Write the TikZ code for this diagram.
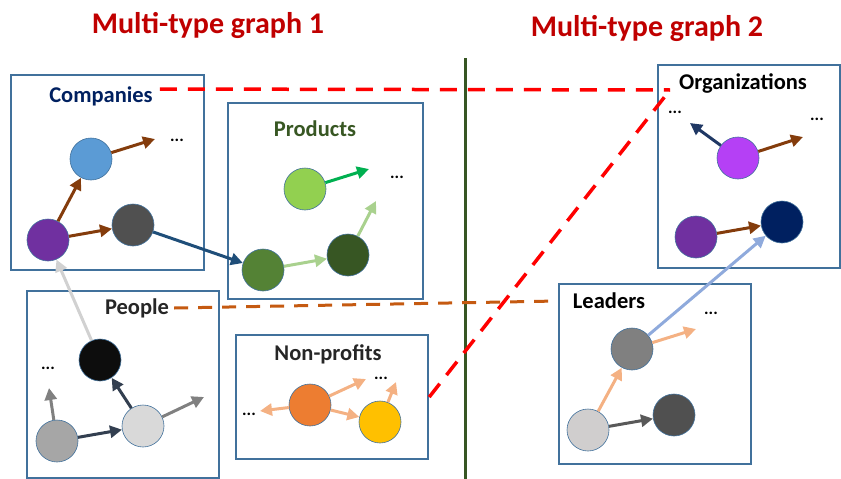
\documentclass[tikz,border=0pt]{standalone}
\usepackage{fontspec}
\setmainfont{Carlito}
\usetikzlibrary{arrows.meta}

\definecolor{boxblue}{HTML}{41719C}
\definecolor{titlered}{HTML}{C00000}
\definecolor{splitgreen}{HTML}{375623}
\definecolor{brownarr}{HTML}{843C0C}
\definecolor{compnavy}{HTML}{002060}
\definecolor{prodlabel}{HTML}{385723}
\definecolor{softorange}{HTML}{F4B183}
\definecolor{dashorange}{HTML}{C55A11}
\definecolor{cblueF}{HTML}{5B9BD5}
\definecolor{purpleF}{HTML}{7030A0}
\definecolor{greyF}{HTML}{505050}
\definecolor{lightgreenF}{HTML}{92D050}
\definecolor{midgreenF}{HTML}{548235}
\definecolor{darkgreenF}{HTML}{375623}
\definecolor{vividgreen}{HTML}{00B050}
\definecolor{palegreen}{HTML}{A9D18E}
\definecolor{linkblue}{HTML}{1F4E79}
\definecolor{slate}{HTML}{333F50}
\definecolor{orangeF}{HTML}{ED7D31}
\definecolor{yellowF}{HTML}{FFC000}
\definecolor{paleF}{HTML}{D0CECE}
\definecolor{magentaF}{HTML}{B540F5}
\definecolor{navyF}{HTML}{002060}
\definecolor{navyarr}{HTML}{203864}
\definecolor{skyarr}{HTML}{8FAADC}

\begin{document}
\begin{tikzpicture}[x=1pt,y=-1pt,
		grp/.style={draw=boxblue,line width=2.2pt,inner sep=0pt,anchor=north west},
		ent/.style={circle,draw=boxblue,line width=0.6pt,minimum size=42pt,inner sep=0pt},
		lbl/.style={font=\fontsize{22.5}{26}\selectfont\bfseries,inner sep=1pt},
		more/.style={font=\fontsize{17}{18}\selectfont\bfseries,inner sep=0pt},
		title/.style={font=\fontsize{30}{34}\selectfont\bfseries,text=titlered},
		arr/.style={line width=3pt,-{Triangle[length=12pt,width=12pt]}},
		link/.style={line width=3.5pt,dash pattern=on 17pt off 11pt}]
	\useasboundingbox (0,0) rectangle (841,479);
	% titles and split line
	\node[title] (t1) at (208,25) {Multi-type graph 1};
	\node[title] (t2) at (647,28) {Multi-type graph 2};
	\coordinate (splittop) at (465,58);
	\coordinate (splitbot) at (465,479);
	\draw[splitgreen,line width=3pt] (splittop) -- (splitbot);
	
	% group boxes
	\node[grp,minimum width=193,minimum height=195] (bcomp) at (10,74) {};
	\node[grp,minimum width=195,minimum height=196] (bprod) at (227,102) {};
	\node[grp,minimum width=192,minimum height=187] (bpeop) at (26,290) {};
	\node[grp,minimum width=192,minimum height=124] (bnonp) at (235,334) {};
	\node[grp,minimum width=192,minimum height=180] (blead) at (558,283) {};
	\node[grp,minimum width=182,minimum height=203] (borg) at (657,64) {};
	
	\node[lbl,text=compnavy] (lcomp) at (101,96) {Companies};
	\node[lbl,text=prodlabel] (lprod) at (315,129) {Products};
	\node[lbl,text=black!85] (lpeop) at (137,308) {People};
	\node[lbl,text=black!85] (lnonp) at (328,354) {Non-profits};
	\node[lbl,text=black] (llead) at (609,301) {Leaders};
	\node[lbl,text=black] (lorg) at (743,83) {Organizations};
	
	% companies
	\node[ent,fill=cblueF] (cblue) at (91,159) {};
	\node[ent,fill=purpleF] (cpurple) at (48,240) {};
	\node[ent,fill=greyF] (cgrey) at (133,225) {};
	\node[more] (cdots) at (177,140) {...};
	\coordinate (cend) at (155,139);
	\draw[arr,brownarr] (cpurple) -- (cblue);
	\draw[arr,brownarr] (cpurple) -- (cgrey);
	\draw[arr,brownarr] (cblue) -- (cend);
	
	% products
	\node[ent,fill=lightgreenF] (plight) at (305,189) {};
	\node[ent,fill=midgreenF] (pmid) at (263,270) {};
	\node[ent,fill=darkgreenF] (pdark) at (348,255) {};
	\node[more] (pdots) at (397,177) {...};
	\coordinate (pend1) at (369,169);
	\coordinate (pend2) at (376,201);
	\draw[arr,vividgreen] (plight) -- (pend1);
	\draw[arr,palegreen] (pmid) -- (pdark);
	\draw[arr,palegreen] (pdark) -- (pend2);
	\draw[arr,linkblue] (cgrey) -- (pmid);
	
	% people
	\node[ent,fill=black!95] (pblack) at (100,360) {};
	\node[ent,fill=black!35] (pgrey) at (57,441) {};
	\node[ent,fill=black!15] (ppale) at (143,426) {};
	\node[more] (pedots) at (48,368) {...};
	\coordinate (peend1) at (49,388);
	\coordinate (peend2) at (204,397);
	\draw[arr,black!50] (pgrey) -- (peend1);
	\draw[arr,slate] (pgrey) -- (ppale);
	\draw[arr,slate] (ppale) -- (pblack);
	\draw[arr,black!50] (ppale) -- (peend2);
	\draw[arr,black!18] (pblack) -- (cpurple);
	
	% non-profits
	\node[ent,fill=orangeF] (norange) at (310,405) {};
	\node[ent,fill=yellowF] (nyellow) at (380,422) {};
	\node[more] (ndots1) at (381,378) {...};
	\node[more] (ndots2) at (249,414) {...};
	\coordinate (nend1) at (366,379);
	\coordinate (nend2) at (260,411);
	\coordinate (nend3) at (396,382);
	\draw[arr,softorange] (norange) -- (nend1);
	\draw[arr,softorange] (norange) -- (nend2);
	\draw[arr,softorange] (norange) -- (nyellow);
	\draw[arr,softorange] (nyellow) -- (nend3);
	
	% leaders
	\node[ent,fill=black!50] (lmid) at (632,349) {};
	\node[ent,fill=paleF] (lpale) at (588,430) {};
	\node[ent,fill=greyF] (ldark) at (674,415) {};
	\node[more] (ldots) at (711,313) {...};
	\coordinate (lend) at (696,329);
	\draw[arr,softorange] (lpale) -- (lmid);
	\draw[arr,softorange] (lmid) -- (lend);
	\draw[arr,black!65] (lpale) -- (ldark);
	
	% organizations
	\node[ent,fill=magentaF] (omag) at (738,158) {};
	\node[ent,fill=purpleF] (opurple) at (696,237) {};
	\node[ent,fill=navyF] (onavy) at (782,222) {};
	\node[more] (odots1) at (675,112) {...};
	\node[more] (odots2) at (817,119) {...};
	\coordinate (oend1) at (690,123);
	\coordinate (oend2) at (803,137);
	\draw[arr,navyarr] (omag) -- (oend1);
	\draw[arr,brownarr] (omag) -- (oend2);
	\draw[arr,brownarr] (opurple) -- (onavy);
	\draw[arr,skyarr] (lmid) -- (onavy);
	
	% cross-graph links
	\coordinate (orgcorner) at (670,90);
	\draw[link,red] ([xshift=6pt,yshift=7pt]lcomp.east) -- (orgcorner);
	\draw[link,red] (bnonp.east) -- (orgcorner);
	\draw[link,dashorange,line width=3pt,dash pattern=on 14pt off 10pt] ([xshift=4pt]lpeop.east) -- ([yshift=-18pt]blead.north west);
\end{tikzpicture}
\end{document}
